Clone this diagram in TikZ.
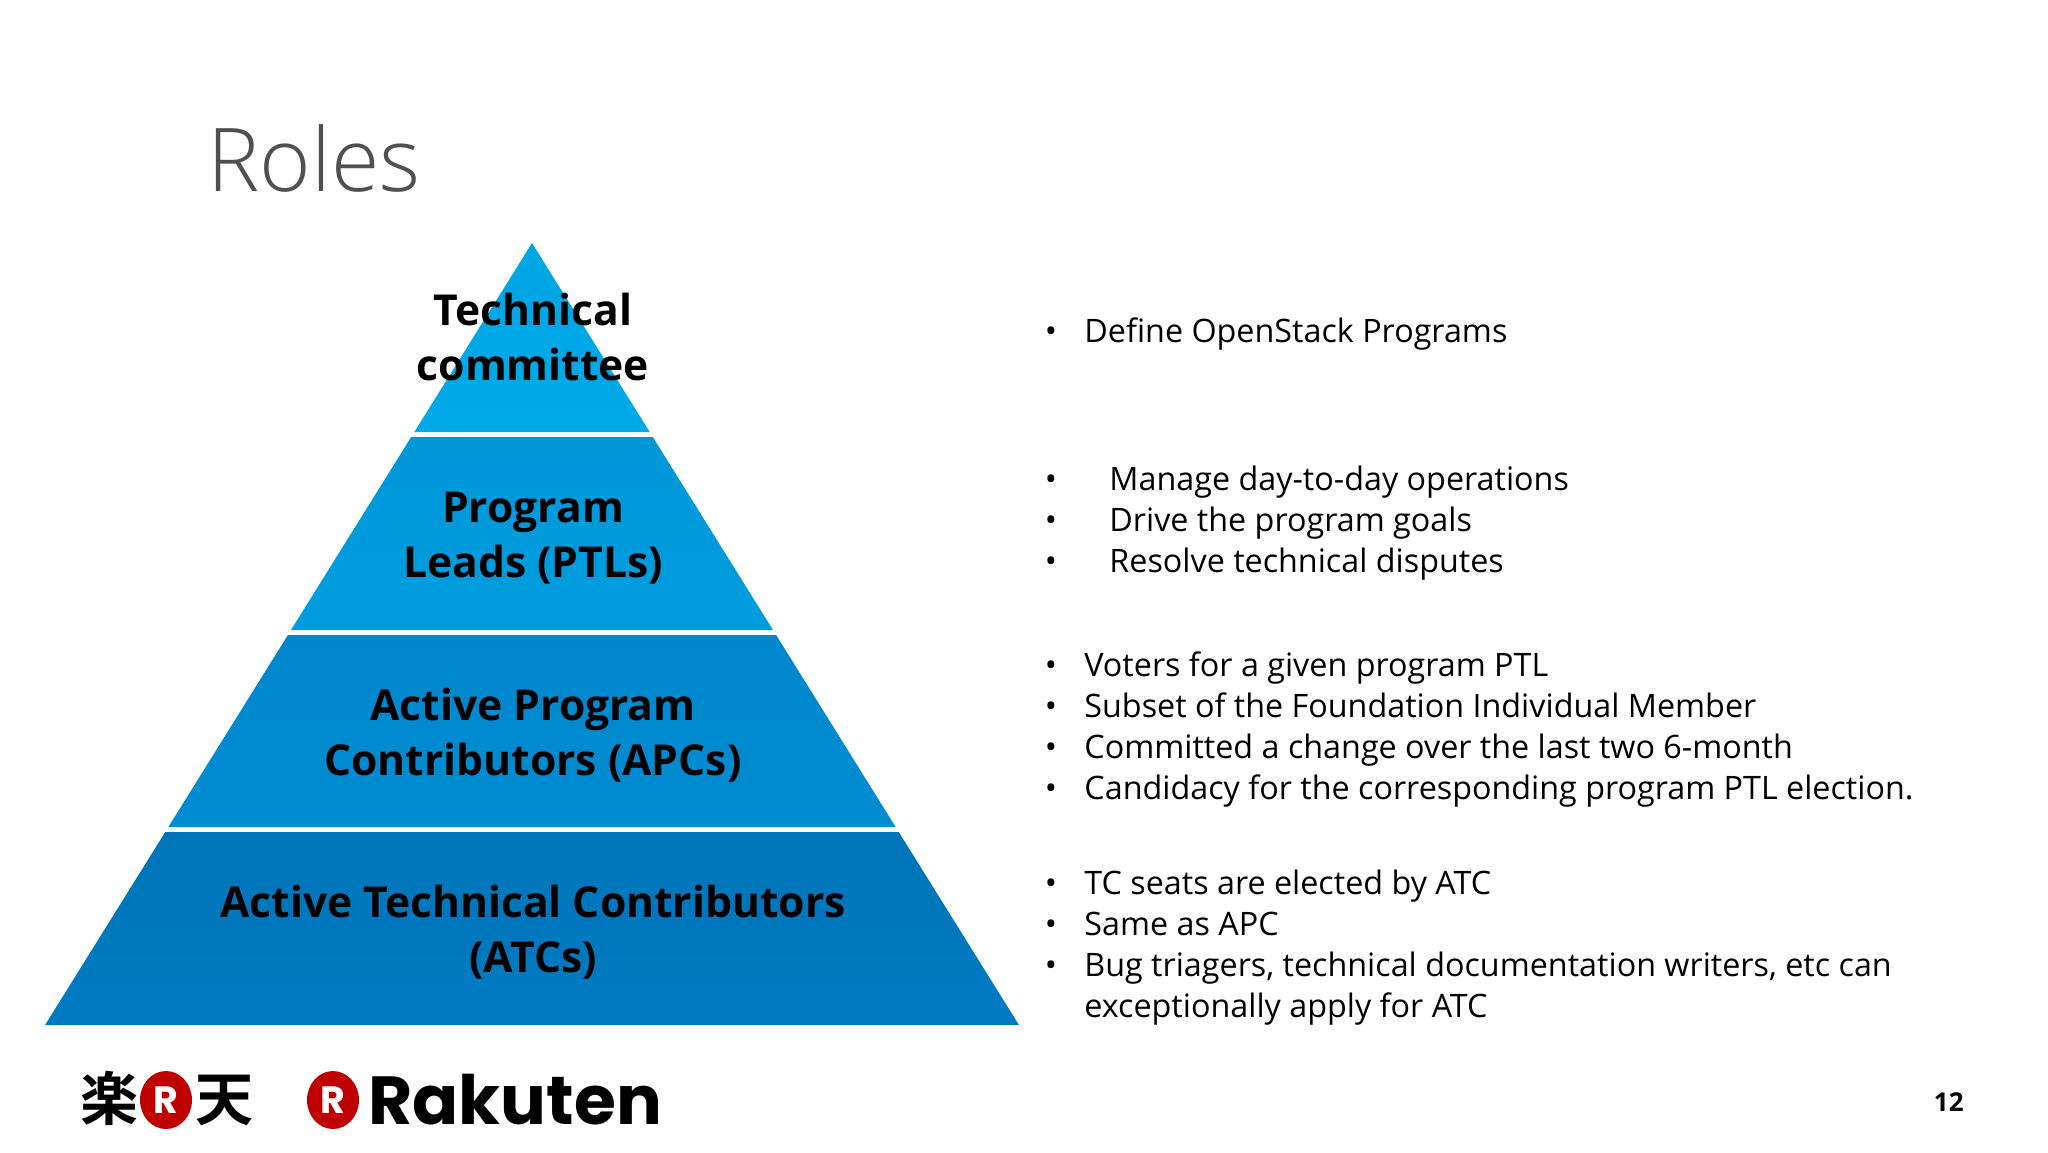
\documentclass[tikz,border=0pt]{standalone}
\usepackage{fontspec}
\setmainfont{Open Sans}
\newfontfamily\titlefont{Open Sans Light}
\newfontfamily\cjkfont{Noto Sans CJK JP}[BoldFont=* Bold]
\newfontfamily\logofont{Poppins}
\usepackage{xcolor}
\usetikzlibrary{positioning,shapes.geometric}
\definecolor{titlegray}{HTML}{505050}
\definecolor{rakred}{HTML}{BF0000}
\tikzset{
  band/.style={shade,shading=axis,shading angle=0},
  tier/.style={anchor=base,font=\fontsize{21.3}{24}\selectfont\bfseries,inner sep=0pt},
  item/.style={anchor=base west,font=\fontsize{16.15}{18}\selectfont,inner sep=0pt},
  bullet/.style={anchor=base,font=\fontsize{16.15}{18}\selectfont,inner sep=0pt},
  seal/.style={ellipse,fill=rakred,text=white,inner sep=0pt,minimum width=26pt,minimum height=29pt,
    font=\logofont\fontsize{19}{19}\selectfont\bfseries},
  kanji/.style={anchor=base,inner sep=0pt,font=\cjkfont\fontsize{29}{30}\selectfont\bfseries}
}

\begin{document}
\begin{tikzpicture}[x=0.5pt,y=-0.5pt,line cap=round,line join=round]
  % --- Window ---
  \useasboundingbox (0,0) rectangle (2048,1152);
  \def\apexx{532} \def\apexy{243}
  \def\run{0.6227}

  % --- Title ---
  \node[anchor=base west,inner sep=0pt,text=titlegray,font=\titlefont\fontsize{44}{50}\selectfont] (title) at (207,191) {Roles};

  % --- Bands of the pyramid ---
  \foreach \name/\ytop/\ybot/\ctop/\cbot in {
    one/243/432/00A5E3/00A9E8,
    two/437/630/0097D9/009DDE,
    three/635/827/0086CC/008DD2,
    four/832/1025/0074B8/007BC2} {
    \definecolor{ctopc}{HTML}{\ctop}
    \definecolor{cbotc}{HTML}{\cbot}
    \path[band,top color=ctopc,bottom color=cbotc]
      ({\apexx-\run*(\ytop-\apexy)},\ytop) -- ({\apexx+\run*(\ytop-\apexy)},\ytop)
      -- ({\apexx+\run*(\ybot-\apexy)},\ybot) -- ({\apexx-\run*(\ybot-\apexy)},\ybot) -- cycle;
  }

  % --- Labels of the bands ---
  \node[tier] (tc1) at (533,325) {Technical};
  \node[tier] (tc2) at (533,380) {committee};
  \node[tier] (ptl1) at (533,522) {Program};
  \node[tier] (ptl2) at (533,577) {Leads (PTLs)};
  \node[tier] (apc1) at (533,720) {Active Program};
  \node[tier] (apc2) at (533,775) {Contributors (APCs)};
  \node[tier] (atc1) at (533,917) {Active Technical Contributors};
  \node[tier] (atc2) at (533,972) {(ATCs)};

  % --- Lists ---
  \foreach \ypos/\xpos/\txt in {
    342/1084/Define OpenStack Programs,
    490/1109/Manage day-to-day operations,
    531/1109/Drive the program goals,
    572/1109/Resolve technical disputes,
    676/1084/Voters for a given program PTL,
    717/1084/Subset of the Foundation Individual Member,
    758/1084/Committed a change over the last two 6-month,
    799/1084/Candidacy for the corresponding program PTL election.,
    894/1084/TC seats are elected by ATC,
    935/1084/Same as APC,
    976/1084/{Bug triagers, technical documentation writers, etc can}} {
    \node[bullet] at (1051,\ypos) {\textbullet};
    \node[item] at (\xpos,\ypos) {\txt};
  }
  \node[item] (cont) at (1084,1017) {exceptionally apply for ATC};

  % --- Logos ---
  \node[kanji] (raku) at (109,1120) {楽};
  \node[seal] (seal1) at (166,1100) {R};
  \node[kanji] (ten) at (224,1120) {天};
  \node[seal] (seal2) at (333,1100) {R};
  \node[anchor=base west,inner sep=0pt,font=\logofont\fontsize{34}{36}\selectfont\bfseries] (brand) at (368,1124) {Rakuten};

  % --- Page number ---
  \node[anchor=base east,inner sep=0pt,font=\fontsize{13}{15}\selectfont\bfseries] (page) at (1964,1111) {12};
\end{tikzpicture}
\end{document}
